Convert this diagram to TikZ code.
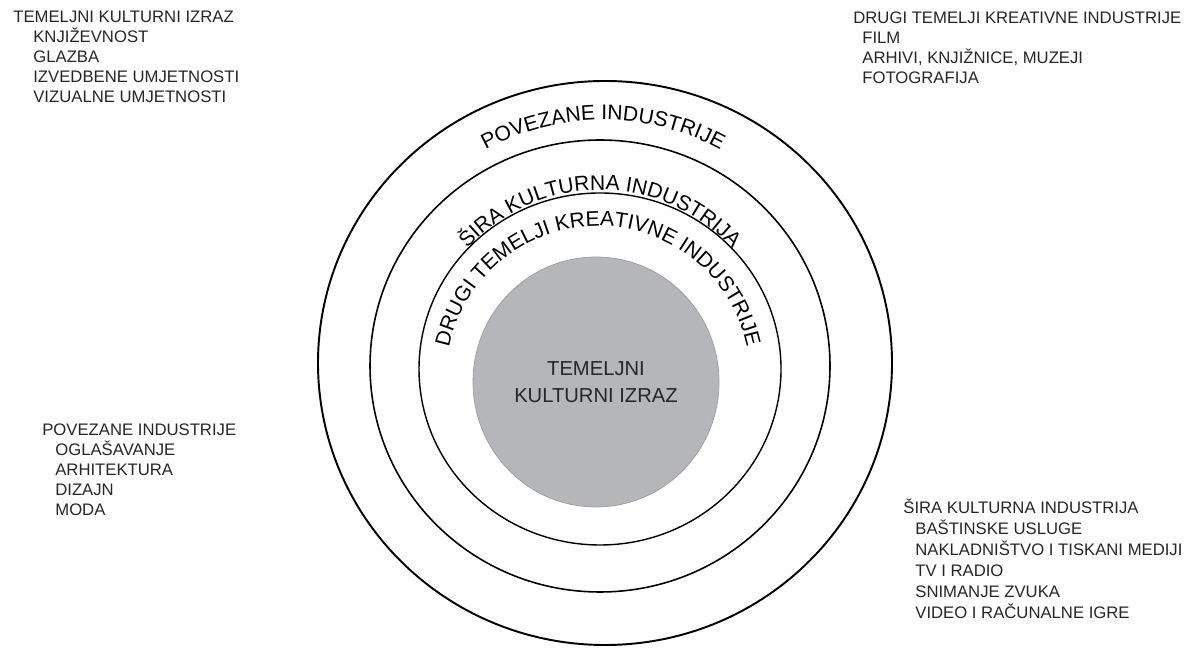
\documentclass[tikz,border=0pt]{standalone}
\usepackage{fontspec}
\setmainfont{Liberation Sans}
\usetikzlibrary{decorations.text}
\definecolor{coregray}{RGB}{180,182,185}
\newcommand{\arcfont}{\fontsize{12}{14}\selectfont}

\begin{document}
\begin{tikzpicture}[x=0.02cm,y=0.02cm,
	ring/.style={draw=black,line width=0.9pt},
	listhead/.style={anchor=base west,inner sep=0pt,text=black!85,font=\fontsize{9.5}{11}\selectfont},
	listitem/.style={listhead},
	arclabel/.style={decorate,decoration={text along path,text align=center,text={|\arcfont|#1}}}]
	\useasboundingbox (0,0) rectangle (1195,648);

	% circles
	\draw[ring,line width=1.1pt] (605,285) ellipse [x radius=287,y radius=282];
	\draw[ring] (600,282) ellipse [x radius=230,y radius=226];
	\draw[ring,line width=0.8pt] (600,279) ellipse [x radius=181,y radius=176];
	\fill[coregray,draw=coregray!85!black,line width=0.4pt] (596,266) ellipse [x radius=123,y radius=125];
	\node[align=center,text=black!85,font=\fontsize{11.5}{15}\selectfont] (core) at (596,266) {TEMELJNI\\KULTURNI IZRAZ};

	% labels on the rings
	\path[arclabel={POVEZANE INDUSTRIJE}] (603,282) ++(180:246) arc[start angle=180,end angle=0,radius=246];
	\path[arclabel={ŠIRA KULTURNA INDUSTRIJA}] (600,279) ++(180:179) arc[start angle=180,end angle=0,radius=179];
	\path[arclabel={DRUGI TEMELJI KREATIVNE INDUSTRIJE}] (598,270) ++(180:152) arc[start angle=180,end angle=0,radius=152];

	% lists
	\node[listhead] (corehead) at (13,625) {TEMELJNI KULTURNI IZRAZ};
	\foreach \lbl [count=\i] in {KNJIŽEVNOST,GLAZBA,IZVEDBENE UMJETNOSTI,VIZUALNE UMJETNOSTI}
		\node[listitem] (core-\i) at (33,{625-20*\i}) {\lbl};

	\node[listhead] (otherhead) at (853,624) {DRUGI TEMELJI KREATIVNE INDUSTRIJE};
	\foreach \lbl [count=\i] in {FILM,{ARHIVI, KNJIŽNICE, MUZEJI},FOTOGRAFIJA}
		\node[listitem] (other-\i) at (862,{624-20*\i}) {\lbl};

	\node[listhead] (relhead) at (42,212) {POVEZANE INDUSTRIJE};
	\foreach \lbl [count=\i] in {OGLAŠAVANJE,ARHITEKTURA,DIZAJN,MODA}
		\node[listitem] (rel-\i) at (55,{212-20*\i}) {\lbl};

	\node[listhead] (widehead) at (903,134) {ŠIRA KULTURNA INDUSTRIJA};
	\foreach \lbl [count=\i] in {BAŠTINSKE USLUGE,NAKLADNIŠTVO I TISKANI MEDIJI,TV I RADIO,SNIMANJE ZVUKA,VIDEO I RAČUNALNE IGRE}
		\node[listitem] (wide-\i) at (915,{134-21*\i}) {\lbl};
\end{tikzpicture}
\end{document}
